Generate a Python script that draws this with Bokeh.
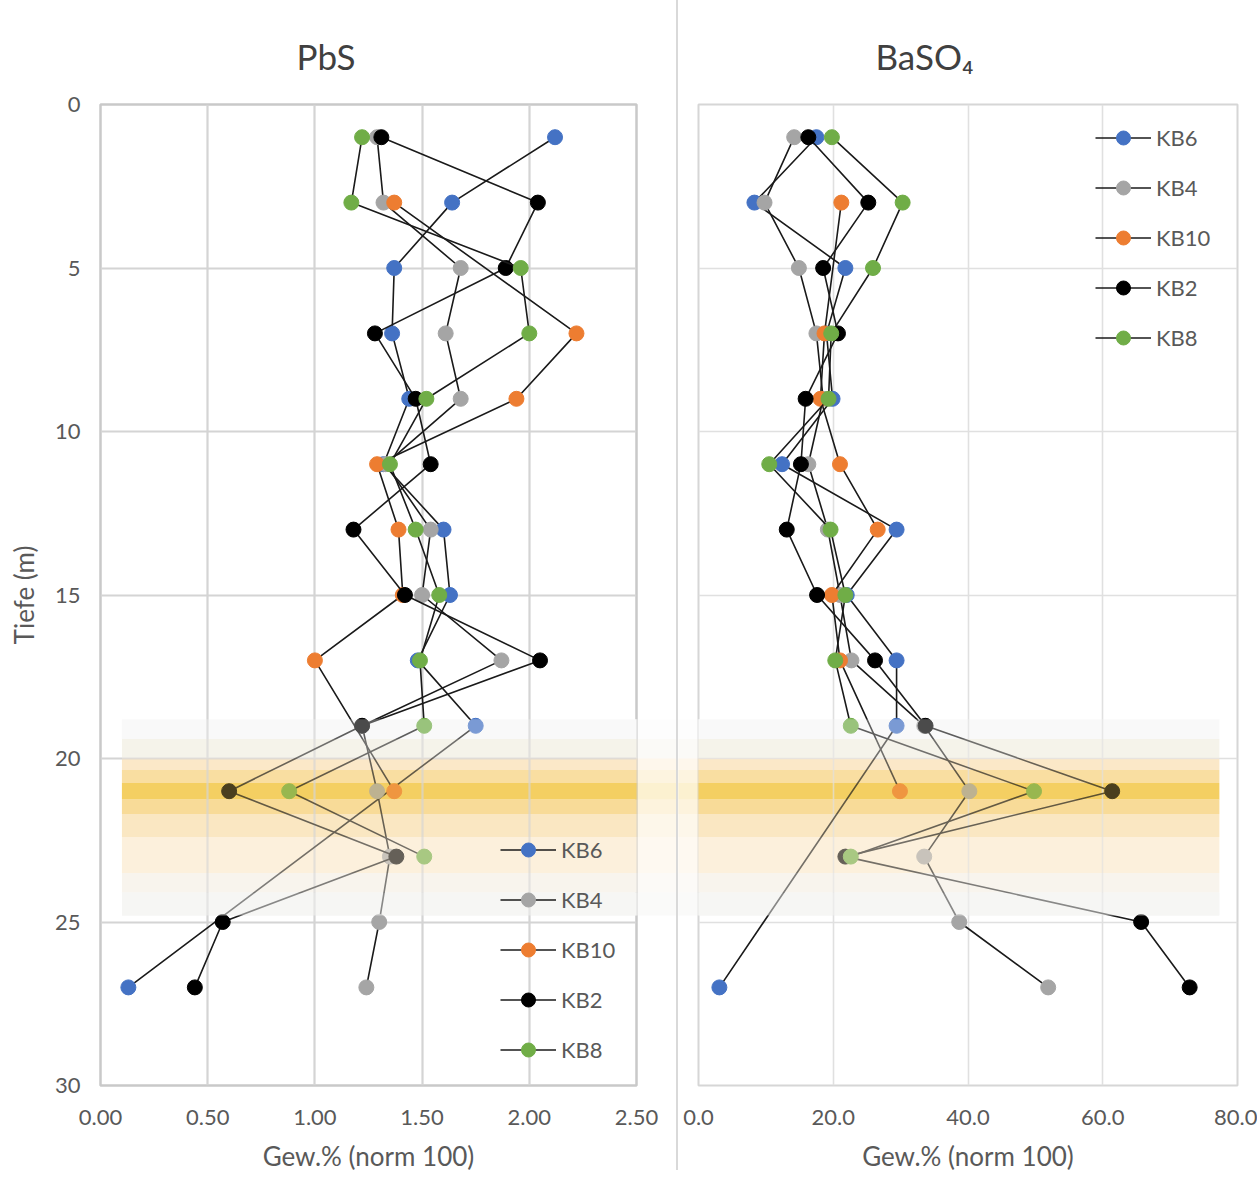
from bokeh.plotting import figure
from bokeh.models import Range1d, FixedTicker, NumeralTickFormatter, Legend, LegendItem, Div
from bokeh.layouts import row
from bokeh.embed import file_html
from bokeh.resources import INLINE

# ---------------- data ----------------
series_names = ["KB6", "KB4", "KB10", "KB2", "KB8"]
series_colors = ["#4472c4", "#a5a5a5", "#ed7d31", "#000000", "#70ad47"]

depth_kb6 = [1, 3, 5, 7, 9, 11, 13, 15, 17, 19, 27]
depth_kb4 = [1, 3, 5, 7, 9, 11, 13, 15, 17, 19, 21, 23, 25, 27]
depth_kb10 = [3, 7, 9, 11, 13, 15, 17, 21]
depth_kb2 = [1, 3, 5, 7, 9, 11, 13, 15, 17, 19, 21, 23, 25, 27]
depth_kb8 = [1, 3, 5, 7, 9, 11, 13, 15, 17, 19, 21, 23]

pbs_kb6 = [2.12, 1.64, 1.37, 1.36, 1.44, 1.32, 1.60, 1.63, 1.48, 1.75, 0.13]
pbs_kb4 = [1.29, 1.32, 1.68, 1.61, 1.68, 1.33, 1.54, 1.50, 1.87, 1.22, 1.29, 1.35, 1.30, 1.24]
pbs_kb10 = [1.37, 2.22, 1.94, 1.29, 1.39, 1.41, 1.00, 1.37]
pbs_kb2 = [1.31, 2.04, 1.89, 1.28, 1.47, 1.54, 1.18, 1.42, 2.05, 1.22, 0.60, 1.38, 0.57, 0.44]
pbs_kb8 = [1.22, 1.17, 1.96, 2.00, 1.52, 1.35, 1.47, 1.58, 1.49, 1.51, 0.88, 1.51]

baso4_kb6 = [17.5, 8.3, 21.8, 19.0, 19.9, 12.4, 29.4, 22.0, 29.4, 29.4, 3.1]
baso4_kb4 = [14.2, 9.8, 14.9, 17.5, 18.5, 16.3, 19.2, 21.0, 22.7, 33.5, 40.2, 33.5, 38.7, 51.9]
baso4_kb10 = [21.2, 18.7, 18.1, 21.0, 26.6, 19.8, 21.0, 29.9]
baso4_kb2 = [16.3, 25.2, 18.5, 20.7, 15.9, 15.2, 13.1, 17.6, 26.2, 33.7, 61.4, 21.8, 65.7, 72.9]
baso4_kb8 = [19.8, 30.3, 25.9, 19.7, 19.3, 10.5, 19.6, 21.8, 20.3, 22.6, 49.8, 22.6]

depths = [depth_kb6, depth_kb4, depth_kb10, depth_kb2, depth_kb8]
pbs_values = [pbs_kb6, pbs_kb4, pbs_kb10, pbs_kb2, pbs_kb8]
baso4_values = [baso4_kb6, baso4_kb4, baso4_kb10, baso4_kb2, baso4_kb8]

y_ticks = [0, 5, 10, 15, 20, 25, 30]
pbs_ticks = [0.0, 0.5, 1.0, 1.5, 2.0, 2.5]
baso4_ticks = [0, 20, 40, 60, 80]

# highlighted depth band (decoration)
band_bottom = [18.8, 19.4, 20.0, 20.35, 20.75, 21.25, 21.7, 22.4, 23.5, 24.1]
band_top = [19.4, 20.0, 20.35, 20.75, 21.25, 21.7, 22.4, 23.5, 24.1, 24.8]
band_colors = ["#fafafa", "#f5f3ea", "#fbe9c8", "#f9dea2", "#f4cf62",
               "#f8dc98", "#fae7c2", "#fcf1dc", "#f8f5ed", "#f6f6f4"]
band_alpha = [0.30, 0.40, 0.35, 0.33, 0.30, 0.33, 0.35, 0.40, 0.45, 0.50]

FONT = "Lato"
TXT = "#595959"


def make_panel(title, values, xmax, ticks, fmt, band_x, legend_loc,
               border_left, border_right, title_offset, show_y, frame_w):
    p = figure(frame_width=frame_w, frame_height=981,
               min_border_left=border_left, min_border_right=border_right,
               min_border_top=104, min_border_bottom=85,
               x_range=Range1d(0, xmax), y_range=Range1d(30, 0),
               output_backend="svg", toolbar_location=None,
               background_fill_color="white", border_fill_color="white")
    p.title.text = title
    p.title.align = "left"
    p.title.offset = title_offset
    p.title.standoff = 56
    p.title.text_font = FONT
    p.title.text_font_size = "35px"
    p.title.text_font_style = "normal"
    p.title.text_color = "#404040"

    p.outline_line_color = "#c9c9c9" if show_y else "#d6d6d6"
    p.outline_line_width = 2.5 if show_y else 2

    # axes
    p.xaxis.ticker = FixedTicker(ticks=ticks)
    p.xaxis.formatter = NumeralTickFormatter(format=fmt)
    p.xaxis.axis_label = "Gew.% (norm 100)"
    for ax in [p.xaxis[0], p.yaxis[0]]:
        ax.axis_line_color = None
        ax.major_tick_line_color = None
        ax.minor_tick_line_color = None
        ax.major_tick_out = 0
        ax.major_tick_in = 0
        ax.major_label_text_font = FONT
        ax.major_label_text_font_size = "22px"
        ax.major_label_text_color = TXT
        ax.axis_label_text_font = FONT
        ax.axis_label_text_font_size = "26px"
        ax.axis_label_text_font_style = "normal"
        ax.axis_label_text_color = TXT
    p.xaxis.major_label_standoff = 24
    p.xaxis.axis_label_standoff = 12
    p.yaxis.ticker = FixedTicker(ticks=y_ticks)
    p.ygrid.ticker = FixedTicker(ticks=y_ticks)
    p.xgrid.ticker = FixedTicker(ticks=ticks)
    if show_y:
        p.yaxis.axis_label = "Tiefe (m)"
        p.yaxis.major_label_standoff = 20
        p.yaxis.axis_label_standoff = 12
    else:
        p.yaxis.visible = False

    gc = "#d4d4d4" if show_y else "#e0e0e0"
    gw = 2.2 if show_y else 1.6
    p.xgrid.grid_line_color = gc
    p.ygrid.grid_line_color = gc
    p.xgrid.grid_line_width = gw
    p.ygrid.grid_line_width = gw

    # band background
    n = len(band_bottom)
    p.quad(left=[band_x[0]] * n, right=[band_x[1]] * n,
           bottom=band_bottom, top=band_top,
           fill_color=band_colors, line_color=None, level="underlay")

    items = []
    for name, col, d, v in zip(series_names, series_colors, depths, values):
        lr = p.line(v, d, line_color="#1a1a1a", line_width=1.6)
        sr = p.scatter(v, d, size=15, fill_color=col, line_color=col)
        items.append(LegendItem(label=name, renderers=[lr, sr]))

    # band overlay (fades marks beneath it)
    p.quad(left=[band_x[0]] * n, right=[band_x[1]] * n,
           bottom=band_bottom, top=band_top,
           fill_color=band_colors, fill_alpha=band_alpha,
           line_color=None, level="overlay")

    leg = Legend(items=items, location=legend_loc)
    leg.background_fill_alpha = 0
    leg.border_line_color = None
    leg.padding = 0
    leg.margin = 0
    leg.spacing = 15
    leg.glyph_width = 56
    leg.glyph_height = 35
    leg.label_height = 35
    leg.label_standoff = 5
    leg.label_text_font = FONT
    leg.label_text_font_size = "22px"
    leg.label_text_color = TXT
    p.add_layout(leg)
    return p


p1 = make_panel("PbS", pbs_values, 2.5, pbs_ticks, "0.00", (0.10, 2.75),
                (400, 18), 100, 40, 196, True, 536)
p2 = make_panel("BaSO\u2084", baso4_values, 80, baso4_ticks, "0.0", (-3, 77.3),
                (397, 730), 20, 20, 177, False, 539)

divider = Div(width=2, height=1170, margin=0,
              styles={"background-color": "#d9d9d9"})

layout = row(p1, divider, p2, spacing=0)

open("out.html", "w").write(file_html(layout, INLINE))
